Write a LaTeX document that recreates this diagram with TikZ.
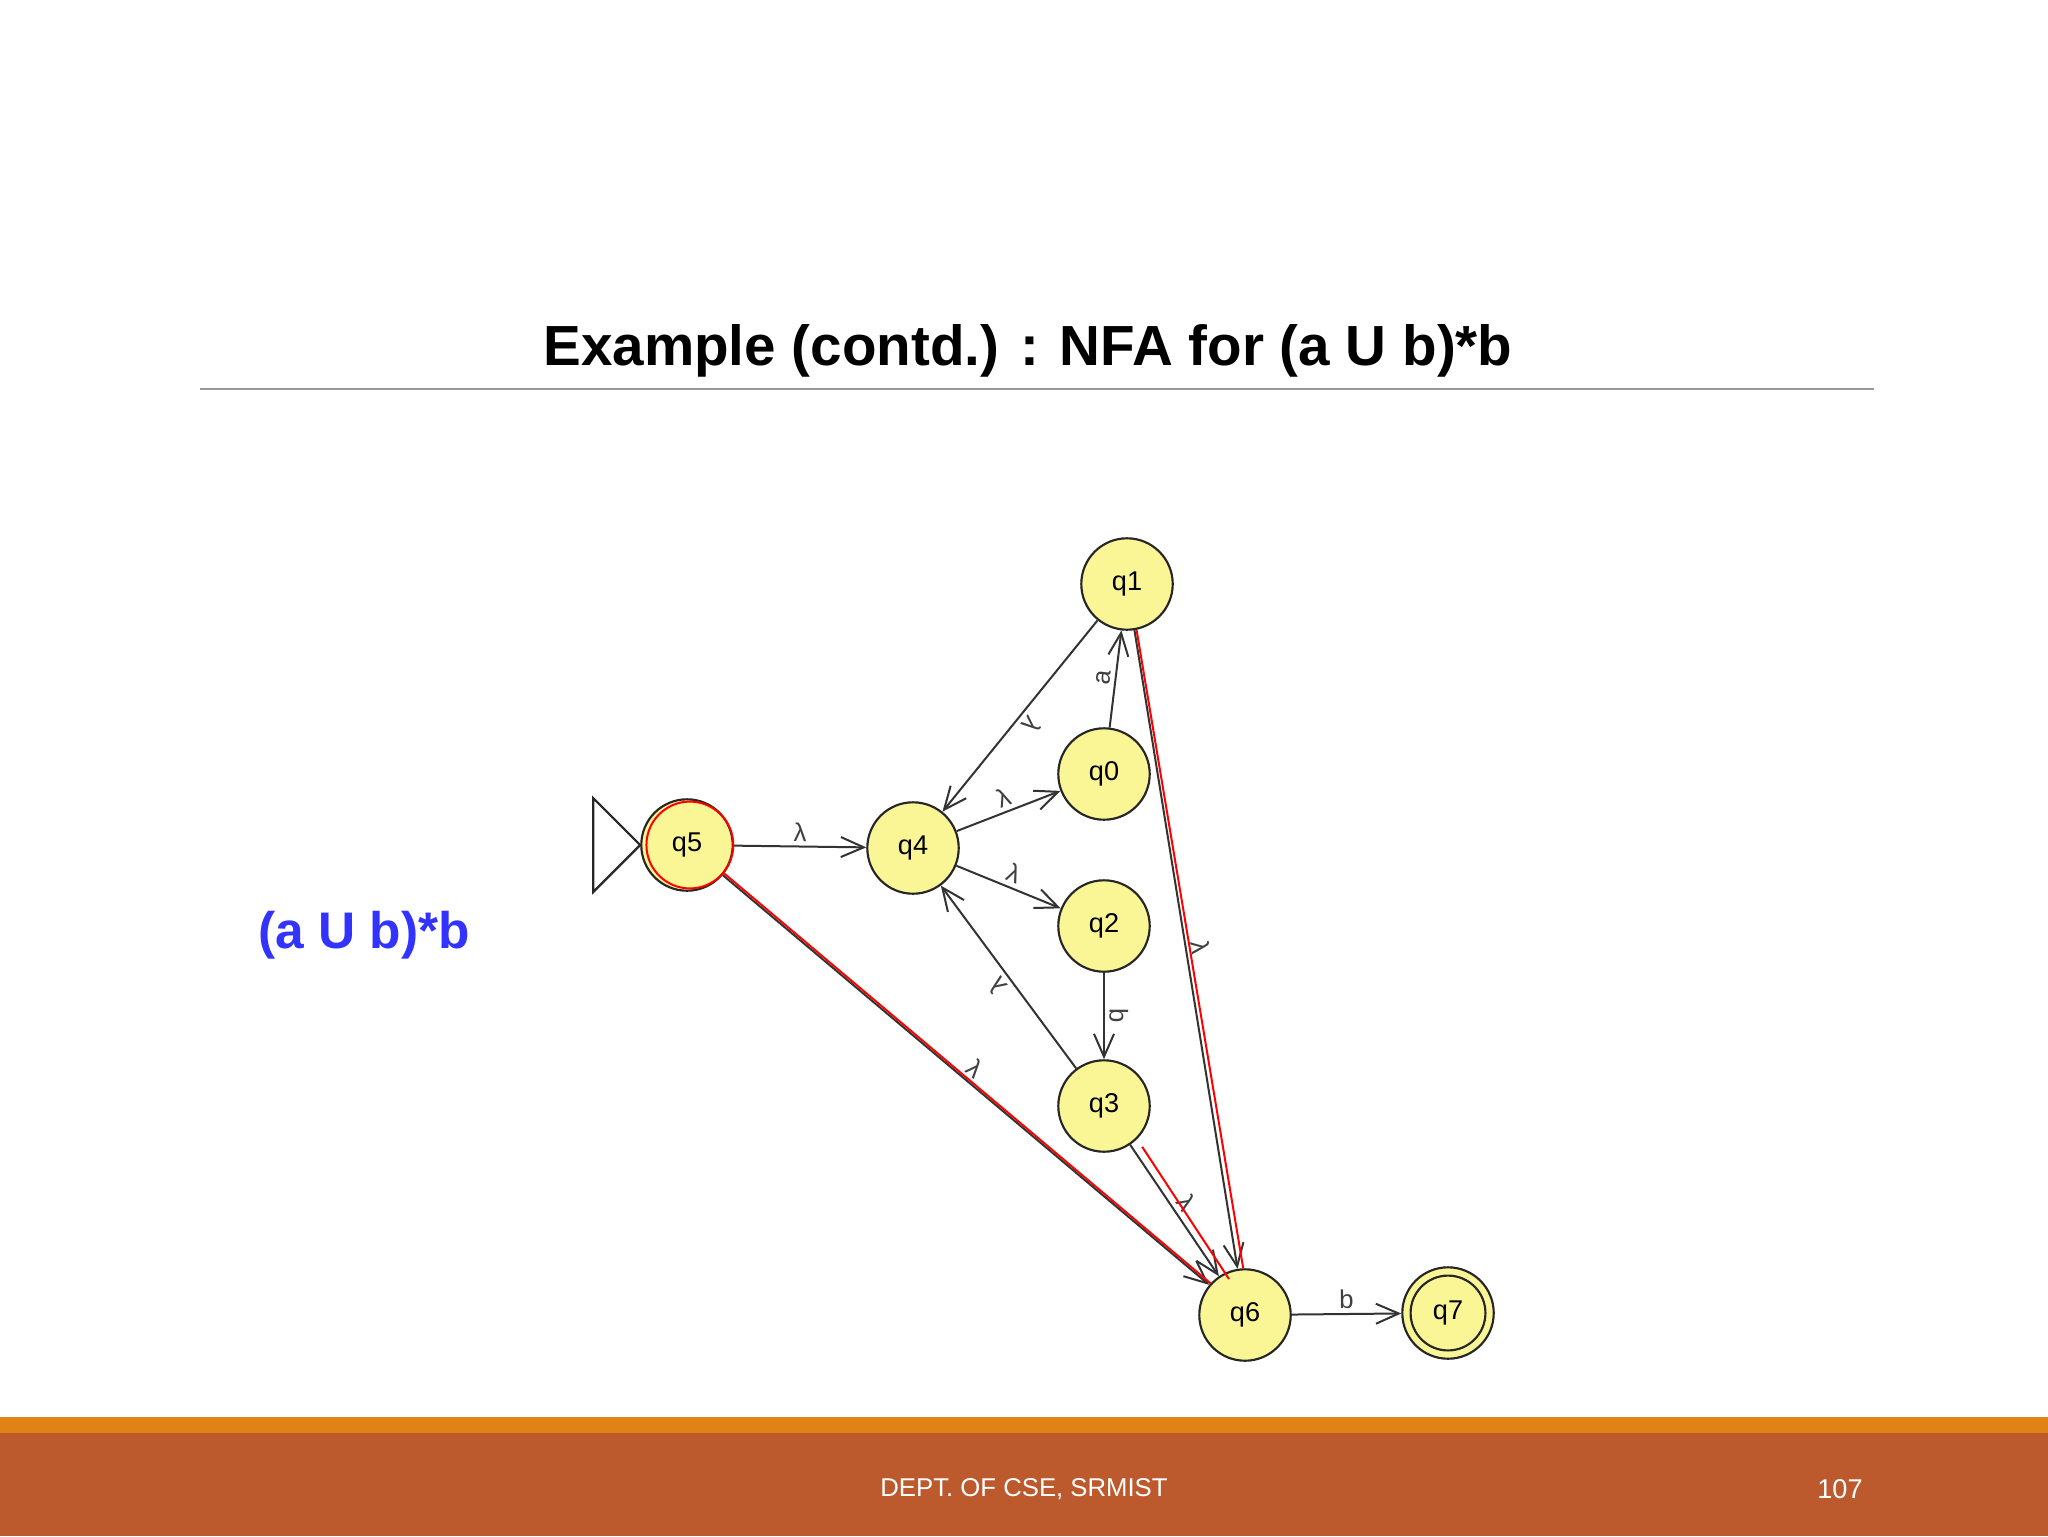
\documentclass[tikz,border=0pt]{standalone}
\usepackage{fontspec}
\setmainfont{Liberation Sans}
\usepackage{xcolor}
\usetikzlibrary{arrows.meta}
\definecolor{stfill}{RGB}{250,246,150}
\definecolor{bandorange}{RGB}{224,130,20}
\definecolor{bandbrown}{RGB}{188,90,46}
\definecolor{regexblue}{RGB}{51,51,255}

\begin{document}
\begin{tikzpicture}[x=0.35pt,y=-0.35pt,
    state/.style={shape=circle, draw=black!85, fill=stfill, line width=0.75pt,
      minimum size=32pt, inner sep=0pt, font=\fontsize{9.5}{11}\selectfont},
    trans/.style={draw=black!80, line width=0.7pt,
      -{Straight Barb[length=8pt,width=7pt,line width=0.7pt]}},
    lab/.style={sloped, allow upside down, above, inner sep=1.5pt,
      font=\fontsize{9}{10}\selectfont, text=black!75},
    hl/.style={red, line width=0.7pt}]
    \fill[white] (0,0) rectangle (2048,1536);
    \fill[bandorange] (0,1417) rectangle (2048,1433);
    \fill[bandbrown] (0,1433) rectangle (2048,1536);

    \node[font=\fontsize{19.8}{24}\selectfont\bfseries] (title) at (1028,351) {Example (contd.) : NFA for (a U b)*b};
    \draw[black!40, line width=0.6pt] (200,389) -- (1874,389);
    \node[font=\fontsize{18}{22}\selectfont\bfseries, text=regexblue] (regex) at (364,935) {(a U b)*b};
    \node[font=\fontsize{9}{11}\selectfont, text=white] (footer) at (1024,1489) {DEPT. OF CSE, SRMIST};
    \node[font=\fontsize{9.5}{11}\selectfont, text=white] (pageno) at (1840,1489) {107};

    \node[state] (q1) at (1127,584) {q1};
    \node[state] (q0) at (1104,774) {q0};
    \node[state] (q5) at (687,845) {q5};
    \node[state] (q4) at (913,848) {q4};
    \node[state] (q2) at (1104,926) {q2};
    \node[state] (q3) at (1104,1106) {q3};
    \node[state] (q6) at (1245,1315) {q6};
    \node[state] (q7) at (1448,1313) {q7};
    \draw[black!85, line width=0.75pt] (q7.center) circle (13.1pt);
    \draw[black!85, line width=0.75pt, fill=white] (q5.west) -- ++(-47,-47) -- ++(0,94) -- cycle;

    \draw[trans] (q5) -- node[lab]{λ} (q4);
    \draw[trans] (q4) -- node[lab]{λ} (q0);
    \draw[trans] (q0) -- node[lab]{a} (q1);
    \draw[trans] (q1) -- node[lab]{λ} (q4);
    \draw[trans] (q4) -- node[lab]{λ} (q2);
    \draw[trans] (q2) -- node[lab]{b} (q3);
    \draw[trans] (q3) -- node[lab]{λ} (q4);
    \draw[trans] (q3) -- node[lab]{λ} (q6);
    \draw[trans] (q1) -- node[lab]{λ} (q6);
    \draw[trans] (q5) -- node[lab]{λ} (q6);
    \draw[trans] (q6) -- node[lab]{b} (q7);

    \coordinate (hit) at (1229,1279);
    \draw[hl] ([xshift=1pt]q5.center) circle (15.2pt);
    \draw[hl] ([shift={(1.5,-1.5)}]q5.-40) -- ([shift={(1.5,-1.5)}]q6.140);
    \draw[hl] ([shift={(12,2)}]q3.-56) -- (hit);
    \draw[hl] ([xshift=0.8pt]q1.-81) -- ([xshift=0.8pt]q6.95);
  \end{tikzpicture}
\end{document}
